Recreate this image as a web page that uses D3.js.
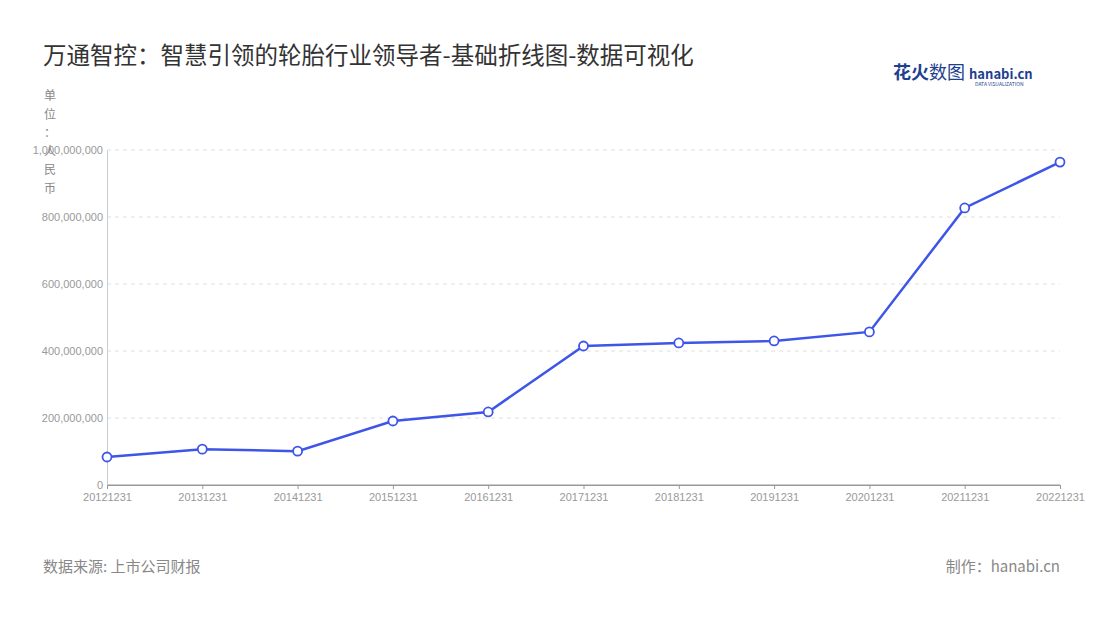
<!DOCTYPE html><html><head><meta charset="utf-8"><script src="https://cdn.jsdelivr.net/npm/d3@7"></script>
<style>body{margin:0;background:#fff;font-family:"Noto Sans CJK SC","Noto Sans",sans-serif}</style></head><body><svg id="c" width="1100" height="620"></svg><script>
const categories=["20121231","20131231","20141231","20151231","20161231","20171231","20181231","20191231","20201231","20211231","20221231"];
const values=[83600000,107000000,101000000,191000000,218000000,415000000,424000000,430000000,457000000,827000000,964000000];
const yTicks=[0,200000000,400000000,600000000,800000000,1000000000];
const svg=d3.select("#c");
const x=d3.scalePoint().domain(categories).range([107,1060]);
const y=d3.scaleLinear().domain([0,1000000000]).range([485,150]);
svg.append("text").attr("x",43).attr("y",64).attr("font-size",23.5).attr("fill","#333").text("万通智控：智慧引领的轮胎行业领导者-基础折线图-数据可视化");
const lg=svg.append("text").attr("x",893).attr("y",79);
lg.append("tspan").attr("font-size",18).attr("font-weight","bold").attr("fill","#1f3f8f").text("花火");
lg.append("tspan").attr("font-size",18).attr("fill","#1f3f8f").text("数图 ");
lg.append("tspan").attr("font-size",13).attr("font-weight","bold").attr("fill","#1f3f8f").text("hanabi.cn");
svg.append("text").attr("x",975).attr("y",86).attr("font-size",5).attr("fill","#1f3f8f").text("DATA VISUALIZATION");
yTicks.forEach(t=>{svg.append("line").attr("x1",107).attr("x2",1060).attr("y1",y(t)).attr("y2",y(t)).attr("stroke",t?"#e0e0e0":"#999").attr("stroke-dasharray",t?"4,4":null);});
const ya=svg.append("g").attr("transform","translate(107,0)").call(d3.axisLeft(y).tickValues(yTicks).tickFormat(d3.format(",")).tickSize(0).tickPadding(4));
ya.select(".domain").attr("stroke","#ccc");ya.selectAll("text").attr("fill","#999").attr("font-size",11);
"单位：人民币".split("").forEach((c,i)=>svg.append("text").attr("x",50).attr("y",100+i*18.5).attr("text-anchor","middle").attr("font-size",12).attr("fill","#888").text(c));
const xa=svg.append("g").attr("transform","translate(0,485)").call(d3.axisBottom(x).tickSize(4).tickPadding(4));
xa.select(".domain").attr("stroke","#999");xa.selectAll("line").attr("stroke","#999");xa.selectAll("text").attr("fill","#999").attr("font-size",11);
svg.append("path").datum(values).attr("fill","none").attr("stroke","#3d55e8").attr("stroke-width",2.5)
 .attr("d",d3.line().x((d,i)=>x(categories[i])).y(d=>y(d)));
svg.selectAll("circle").data(values).join("circle").attr("cx",(d,i)=>x(categories[i])).attr("cy",d=>y(d)).attr("r",4.5).attr("fill","#fff").attr("stroke","#3d55e8").attr("stroke-width",1.8);
svg.append("text").attr("x",43).attr("y",572).attr("font-size",15).attr("fill","#888").text("数据来源: 上市公司财报");
svg.append("text").attr("x",1060).attr("y",572).attr("text-anchor","end").attr("font-size",15).attr("fill","#888").text("制作：hanabi.cn");
</script></body></html>
